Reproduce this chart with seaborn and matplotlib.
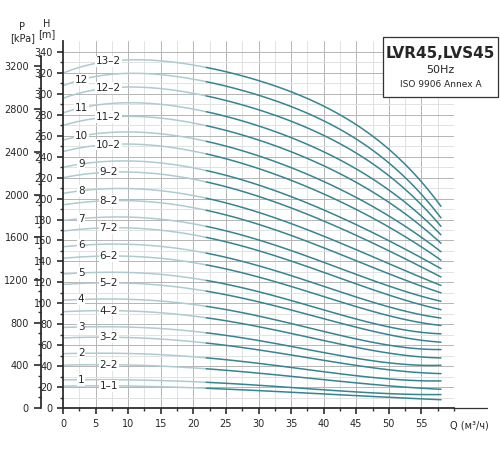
import numpy as np
import matplotlib
matplotlib.use("Agg")
import matplotlib.pyplot as plt
import seaborn as sns
from matplotlib.patches import Rectangle

sns.set_theme(style="white")
plt.rcParams["font.family"] = ["DejaVu Sans"]

# flow points where heads were read (m3/h)
q_pts = [0, 10, 20, 30, 40, 50, 58]

# curve labels from bottom to top
labels = ["1–1", "1", "2–2", "2", "3–2", "3", "4–2", "4", "5–2", "5",
          "6–2", "6", "7–2", "7", "8–2", "8", "9–2", "9", "10–2", "10",
          "11–2", "11", "12–2", "12", "13–2"]

# head (m) at q_pts for each curve
heads = [
    [21, 21, 19.5, 16.8, 13.4, 10.5, 8],
    [27, 27, 25.2, 21.8, 17.6, 13.8, 13],
    [41, 41.1, 38.5, 33.4, 27.1, 21.4, 18],
    [52, 52.2, 49, 42.7, 34.9, 27.8, 26],
    [67, 67.4, 63.4, 55.6, 45.7, 36.6, 33],
    [77, 77.5, 73.2, 64.4, 53.4, 43, 41],
    [92, 92.8, 87.8, 77.7, 64.7, 52.4, 48],
    [103, 104, 98.8, 87.8, 73.5, 59.9, 56],
    [118, 119.3, 113.6, 101.4, 85.5, 70, 63],
    [128, 129.6, 123.8, 111, 94.1, 77.3, 71],
    [143, 145, 138.9, 125, 106.7, 88.1, 79],
    [154, 156.4, 150.2, 135.8, 116.4, 96.6, 86],
    [169, 171.9, 165.5, 150.2, 129.6, 108, 94],
    [179, 182.3, 176, 160.4, 139.3, 116.5, 102],
    [194, 197.9, 191.5, 175.4, 152.9, 128.4, 110],
    [205, 209.3, 203.2, 186.8, 163.8, 138.2, 117],
    [220, 225, 218.9, 202.2, 178, 150.7, 125],
    [230, 235.5, 229.8, 213, 188.6, 160.3, 133],
    [245, 251.4, 246, 228.8, 203.4, 173.7, 141],
    [256, 262.9, 258, 240.9, 215.3, 184.3, 149],
    [270, 277.6, 273.2, 256, 230, 197.6, 157],
    [282, 290.5, 286.5, 269.6, 243.1, 209.5, 165],
    [296, 305.2, 301.9, 285, 258.4, 223.5, 173],
    [308, 318.2, 315.4, 299.1, 272, 235.9, 181],
    [320, 331, 329, 313, 286, 249, 192],
]

fig = plt.figure(figsize=(5, 4.5), dpi=100)
ax = fig.add_axes([0.126, 0.093, 0.782, 0.815])
ax.set_xlim(0, 60)
ax.set_ylim(0, 350)

# grid
for x in np.arange(2.5, 60.1, 2.5):
    ax.axvline(x, color="#b5b5b5" if x % 5 == 0 else "#e2e2e2", lw=0.7, zorder=0)
for y in np.arange(10, 341, 10):
    ax.axhline(y, color="#b5b5b5" if y % 20 == 0 else "#e2e2e2", lw=0.7, zorder=0)

light = "#aecbcf"
dark = "#358590"
for lab, h in zip(labels, heads):
    c = np.polyfit(q_pts, h, 4)
    qa = np.linspace(0, 22, 60)
    qb = np.linspace(22, 58, 100)
    sns.lineplot(x=qa, y=np.polyval(c, qa), ax=ax, color=light, lw=1.1, zorder=2)
    sns.lineplot(x=qb, y=np.polyval(c, qb), ax=ax, color=dark, lw=1.1, zorder=2)
    ql = 7 if "–" in lab else 2.8
    ax.text(ql, np.polyval(c, ql), lab, fontsize=7.5, ha="center", va="center",
            bbox=dict(fc="white", ec="none", pad=0.6), zorder=3)

ax.spines["top"].set_visible(False)
ax.spines["right"].set_visible(False)
ax.spines["left"].set_bounds(0, 350)
ax.set_xticks(range(0, 56, 5))
ax.set_xticks(np.arange(0, 60.1, 2.5), minor=True)
ax.set_yticks(range(0, 341, 20))
ax.set_yticks(range(0, 341, 10), minor=True)
ax.tick_params(axis="both", which="major", labelsize=7, length=4, direction="out",
               left=True, bottom=True, color="#333333")
ax.tick_params(axis="both", which="minor", length=2.5, left=True, bottom=True, color="#333333")
ax.plot([60, 65], [0, 0], color="#333333", lw=0.9, clip_on=False)
ax.text(62.3, -12, "Q (м³/ч)", fontsize=7, ha="center", va="top", clip_on=False)
ax.text(-2.5, 352, "H\n[m]", fontsize=7, ha="center", va="bottom", linespacing=1.1)

# pressure axis
ax2 = ax.twinx()
ax2.set_ylim(0, 350 * 9.81)
ax2.spines["right"].set_visible(False)
ax2.spines["top"].set_visible(False)
ax2.spines["bottom"].set_visible(False)
ax2.spines["left"].set_position(("outward", 16))
ax2.spines["left"].set_bounds(0, 3300)
ax2.yaxis.set_ticks_position("left")
ax2.yaxis.set_label_position("left")
ax2.set_yticks(range(0, 3201, 400))
ax2.set_yticks(range(0, 3301, 100), minor=True)
ax2.tick_params(axis="y", which="major", labelsize=7, length=5, left=True, color="#333333")
ax2.tick_params(axis="y", which="minor", length=2.5, left=True, color="#333333")
fig.text(0.045, 0.905, "P\n[kPa]", fontsize=7, ha="center", va="bottom", linespacing=1.1)

# title box
fig.patches.append(Rectangle((0.766, 0.785), 0.23, 0.133, transform=fig.transFigure,
                             fc="white", ec="#333333", lw=0.9, zorder=5))
fig.text(0.881, 0.88, "LVR45,LVS45", fontsize=11, fontweight="bold", ha="center", va="center", zorder=6)
fig.text(0.881, 0.845, "50Hz", fontsize=8, ha="center", va="center", zorder=6)
fig.text(0.881, 0.812, "ISO 9906 Annex A", fontsize=6.5, ha="center", va="center", zorder=6)

fig.savefig("out.png", dpi=100)
